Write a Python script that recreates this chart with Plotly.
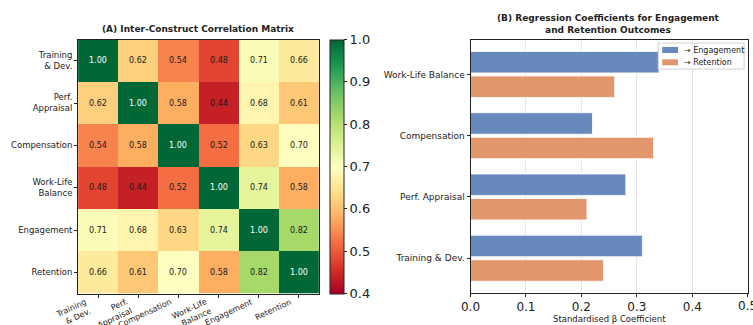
import plotly.graph_objects as go

# Correlation matrix among constructs
constructs = ["Training & Dev.", "Perf. Appraisal", "Compensation",
              "Work-Life Balance", "Engagement", "Retention"]
construct_ticks = ["Training<br>& Dev.", "Perf.<br>Appraisal", "Compensation",
                   "Work-Life<br>Balance", "Engagement", "Retention"]
corr = [
    [1.00, 0.62, 0.54, 0.48, 0.71, 0.66],
    [0.62, 1.00, 0.58, 0.44, 0.68, 0.61],
    [0.54, 0.58, 1.00, 0.52, 0.63, 0.70],
    [0.48, 0.44, 0.52, 1.00, 0.74, 0.58],
    [0.71, 0.68, 0.63, 0.74, 1.00, 0.82],
    [0.66, 0.61, 0.70, 0.58, 0.82, 1.00],
]

# Regression coefficients (bottom to top)
predictors = ["Training & Dev.", "Perf. Appraisal", "Compensation", "Work-Life Balance"]
beta_engagement = [0.31, 0.28, 0.22, 0.34]
beta_retention = [0.24, 0.21, 0.33, 0.26]
beta_ticks = [0.0, 0.1, 0.2, 0.3, 0.4, 0.5]
cbar_ticks = [0.4, 0.5, 0.6, 0.7, 0.8, 0.9, 1.0]

series_names = ["→ Engagement", "→ Retention"]
series_colors = ["rgb(104,137,190)", "rgb(226,150,108)"]

W, H = 753, 325
FONT = "DejaVu Sans"
INK = "#222"

def px_x(p):
    return p / W

def px_y(p):
    return 1 - p / H

fig = go.Figure()

n = len(constructs)
idx = list(range(n))

fig.add_trace(go.Heatmap(
    z=corr, x=idx, y=idx, zmin=0.4, zmax=1.0,
    colorscale="RdYlGn", hoverinfo="skip",
    colorbar=dict(
        x=px_x(324), xanchor="left", xpad=0, ypad=0,
        thickness=14, thicknessmode="pixels",
        y=px_y(166.5), yanchor="middle", len=(293.5 - 39.5) / H, lenmode="fraction",
        tickvals=cbar_ticks, ticktext=[f"{v:.1f}" for v in cbar_ticks],
        ticks="outside", ticklen=3, tickcolor=INK,
        tickfont=dict(size=13, color=INK, family=FONT),
        outlinecolor=INK, outlinewidth=1,
    ),
    xaxis="x", yaxis="y",
))

for i in range(n):
    for j in range(n):
        v = corr[i][j]
        fig.add_annotation(
            x=j, y=i, xref="x", yref="y", text=f"{v:.2f}", showarrow=False,
            font=dict(size=8, color="white" if v >= 0.95 else "#1a1a1a", family=FONT),
        )

# Rotated column labels, right edge aligned to each tick
for j, label in enumerate(construct_ticks):
    fig.add_annotation(
        x=j, y=px_y(296), xref="x", yref="paper", showarrow=False,
        text=label, textangle=-25, xanchor="right", yanchor="top", align="right",
        xshift=-4, borderpad=0,
        font=dict(size=8, family=FONT, color=INK),
    )

# Regression bars: engagement above each tick, retention below
ypos = list(range(len(predictors)))
for values, offset, name, color in [
    (beta_engagement, 0.2, series_names[0], series_colors[0]),
    (beta_retention, -0.2, series_names[1], series_colors[1]),
]:
    fig.add_trace(go.Bar(
        y=[p + offset for p in ypos], x=values, orientation="h", width=0.35,
        name=name, showlegend=False,
        marker=dict(color=color, line=dict(color="white", width=0.8)),
        xaxis="x2", yaxis="y2",
    ))

fig.update_layout(
    width=W, height=H, margin=dict(l=0, r=0, t=0, b=0),
    paper_bgcolor="white", plot_bgcolor="white",
    font=dict(family=FONT, color=INK),
    barmode="overlay",
    showlegend=False,
    xaxis=dict(
        domain=[px_x(69), px_x(313)], range=[-0.5, n - 0.5],
        tickvals=idx, showticklabels=False,
        ticks="outside", ticklen=3, tickcolor=INK,
        showgrid=False, zeroline=False,
        showline=True, linecolor=INK, linewidth=1, mirror=True,
        anchor="y",
    ),
    yaxis=dict(
        domain=[px_y(293.5), px_y(39.5)], range=[n - 0.5, -0.5],
        tickvals=idx, ticktext=construct_ticks,
        tickfont=dict(size=8.5, family=FONT, color=INK),
        ticks="outside", ticklen=3, tickcolor=INK,
        showgrid=False, zeroline=False,
        showline=True, linecolor=INK, linewidth=1, mirror=True,
        anchor="x",
    ),
    xaxis2=dict(
        domain=[px_x(466.7), px_x(747.7)], range=[0, 0.5],
        tickvals=beta_ticks, ticktext=[f"{v:.1f}" for v in beta_ticks],
        tickfont=dict(size=12, family=FONT, color=INK),
        ticks="outside", ticklen=3, tickcolor=INK,
        showgrid=True, gridcolor="rgba(0,0,0,0.1)", gridwidth=1,
        zeroline=False,
        showline=True, linecolor=INK, linewidth=1, mirror=True,
        anchor="y2",
    ),
    yaxis2=dict(
        domain=[px_y(292.7), px_y(40)], range=[-0.5625, 3.5625],
        tickvals=ypos, ticktext=predictors,
        tickfont=dict(size=9, family=FONT, color=INK),
        ticks="outside", ticklen=3, tickcolor=INK,
        showgrid=False, zeroline=False,
        showline=True, linecolor=INK, linewidth=1, mirror=True,
        anchor="x2",
    ),
)

# The last tick label sits on the page edge; place it explicitly
fig.add_annotation(
    x=beta_ticks[-1], y=px_y(306), xref="x2", yref="paper", showarrow=False,
    text=f"{beta_ticks[-1]:.1f}", xanchor="center", yanchor="middle",
    font=dict(size=12, family=FONT, color=INK),
)

# Axis label of panel B, kept inside the page
fig.add_annotation(
    x=(px_x(466.7) + px_x(747.7)) / 2, y=0, xref="paper", yref="paper", showarrow=False,
    text="Standardised β Coefficient", xanchor="center", yanchor="bottom", borderpad=0,
    font=dict(size=8.5, family=FONT, color=INK),
)

# Panel titles
fig.add_annotation(
    x=px_x(191), y=px_y(29), xref="paper", yref="paper", showarrow=False,
    text="<b>(A) Inter-Construct Correlation Matrix</b>", xanchor="center",
    font=dict(size=9, family=FONT, color=INK), yanchor="middle",
)
fig.add_annotation(
    x=px_x(607), y=px_y(24), xref="paper", yref="paper", showarrow=False,
    text="<b>(B) Regression Coefficients for Engagement<br>and Retention Outcomes</b>",
    xanchor="center", font=dict(size=9, family=FONT, color=INK), yanchor="middle",
)

# Legend box for panel B
fig.add_shape(type="rect", xref="paper", yref="paper",
              x0=px_x(657), x1=px_x(744), y0=px_y(69), y1=px_y(43),
              line=dict(color="#d0d0d0", width=1), fillcolor="rgba(255,255,255,0.85)")
for k, (name, color) in enumerate(zip(series_names, series_colors)):
    yc = 50 + 12.3 * k
    fig.add_shape(type="rect", xref="paper", yref="paper",
                  x0=px_x(661), x1=px_x(677), y0=px_y(yc + 3), y1=px_y(yc - 3),
                  line=dict(width=0), fillcolor=color)
    fig.add_annotation(x=px_x(681), y=px_y(yc), xref="paper", yref="paper",
                       text=name, showarrow=False, xanchor="left", yanchor="middle",
                       font=dict(size=8, family=FONT, color=INK))

fig.write_html("out.html")
